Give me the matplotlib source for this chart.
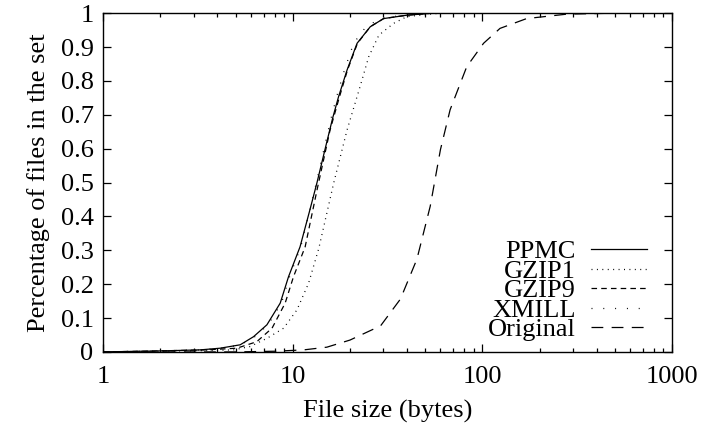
import numpy as np
import matplotlib.pyplot as plt
from matplotlib.ticker import LogLocator, NullFormatter

plt.rcParams['font.family'] = ['Liberation Serif', 'DejaVu Serif']
plt.rcParams['font.size'] = 19
plt.rcParams['lines.scale_dashes'] = False

# cumulative share of files below a given compressed size
ppmc_x = [1, 2, 3.24, 4.13, 5.27, 6.2, 7.29, 8.57, 9.48, 10.9, 12.3, 13.4, 14.8, 16.2, 17.4, 19.3, 21.8, 25.6, 30.1, 40, 55, 1000]
ppmc_y = [0, 0.003, 0.006, 0.011, 0.021, 0.045, 0.08, 0.144, 0.222, 0.31, 0.42, 0.5, 0.6, 0.69, 0.753, 0.832, 0.911, 0.96, 0.984, 0.994, 1.0, 1.0]

gzip1_x = [1, 2, 3.5, 4.86, 5.95, 7.29, 8.93, 10.5, 12.1, 13.7, 16.4, 19.3, 22.6, 25.1, 28.4, 34, 40, 60, 1000]
gzip1_y = [0, 0.002, 0.004, 0.006, 0.016, 0.04, 0.07, 0.124, 0.203, 0.306, 0.498, 0.655, 0.783, 0.871, 0.935, 0.97, 0.99, 1.0, 1.0]

gzip9_x = [1, 2, 3.5, 5.06, 6.44, 7.76, 9.1, 10.07, 11.6, 13.4, 15.7, 17.6, 19.4, 21.9, 25.6, 30.1, 40, 55, 1000]
gzip9_y = [0, 0.003, 0.006, 0.011, 0.03, 0.07, 0.144, 0.222, 0.31, 0.478, 0.655, 0.753, 0.832, 0.911, 0.96, 0.984, 0.994, 1.0, 1.0]

xmill_x = [1, 2, 3.3, 4.2, 5.3, 6.3, 7.4, 8.7, 9.6, 11.0, 12.3, 13.3, 14.6, 15.9, 17.0, 18.7, 20.9, 24.3, 29, 38, 55, 1000]
xmill_y = [0, 0.003, 0.006, 0.011, 0.021, 0.045, 0.08, 0.144, 0.222, 0.31, 0.42, 0.5, 0.6, 0.69, 0.753, 0.832, 0.911, 0.96, 0.984, 0.994, 1.0, 1.0]

orig_x = [1, 5, 8, 11.4, 15.1, 20, 29, 36.9, 45.1, 53, 60, 67.5, 82.6, 101.3, 123.7, 171, 278, 500, 1000]
orig_y = [0, 0.0, 0.002, 0.006, 0.014, 0.035, 0.077, 0.156, 0.274, 0.43, 0.597, 0.715, 0.842, 0.911, 0.955, 0.984, 0.997, 1.0, 1.0]

fig = plt.figure(figsize=(7.03, 4.24), dpi=100)
ax = fig.add_axes([0.147, 0.17, 0.809, 0.799])

lw = 0.9
ax.plot(ppmc_x, ppmc_y, color='black', lw=lw, label='PPMC')
ax.plot(gzip1_x, gzip1_y, color='black', lw=lw, dashes=(0.7, 3.2), label='GZIP1')
ax.plot(gzip9_x, gzip9_y, color='black', lw=lw, dashes=(4, 3), label='GZIP9')
ax.plot(xmill_x, xmill_y, color='black', lw=lw, dashes=(0.7, 7.8), label='XMILL')
ax.plot(orig_x, orig_y, color='black', lw=lw, dashes=(8.5, 6), label='Original')

ax.set_xscale('log')
ax.set_xlim(1, 1000)
ax.set_ylim(0, 1)
ax.xaxis.set_minor_locator(LogLocator(base=10, subs=np.arange(2, 10)))
ax.xaxis.set_minor_formatter(NullFormatter())
ax.set_xticks([1, 10, 100, 1000])
ax.set_xticklabels(['1', '10', '100', '1000'])
ax.set_yticks(np.round(np.arange(0, 1.01, 0.1), 1))
ax.set_yticklabels(['0'] + ['%.1f' % v for v in np.arange(0.1, 0.95, 0.1)] + ['1'])

ax.tick_params(which='both', direction='in', top=True, right=True, width=0.9)
ax.tick_params(which='major', length=6)
ax.tick_params(which='minor', length=3)
ax.tick_params(axis='y', pad=7)
ax.tick_params(axis='x', pad=10)
for s in ax.spines.values():
    s.set_linewidth(1.0)

ax.set_xlabel('File size (bytes)', labelpad=9)
ax.set_ylabel('Percentage of files in the set', labelpad=8)

ax.legend(loc='lower right', bbox_to_anchor=(0.975, 0.0), frameon=False,
          markerfirst=False, handlelength=2.15, handletextpad=0.57,
          labelspacing=-0.15, borderaxespad=0.0, borderpad=0.4)

plt.savefig('out.png', dpi=100)
